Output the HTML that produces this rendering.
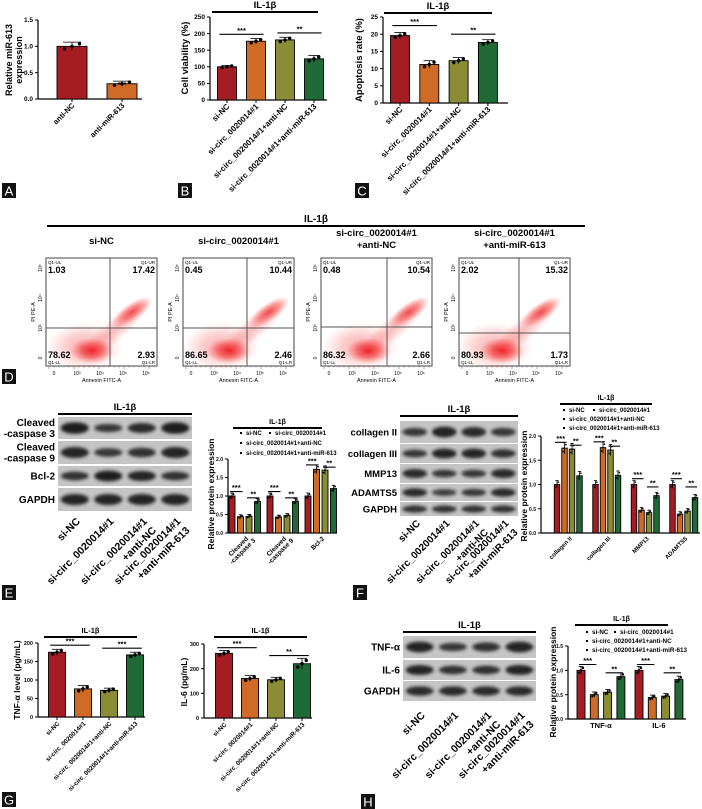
<!DOCTYPE html>
<html><head><meta charset="utf-8">
<style>
html,body{margin:0;padding:0;background:#fff;}
svg{display:block;font-family:"Liberation Sans",Arial,sans-serif;}
</style></head>
<body>
<svg id="fig" width="702" height="809" viewBox="0 0 702 809" xmlns="http://www.w3.org/2000/svg">
<defs>
<radialGradient id="cloud" cx="50%" cy="50%" r="50%">
<stop offset="0" stop-color="#e8000a" stop-opacity="0.95"/>
<stop offset="0.5" stop-color="#f01a1a" stop-opacity="0.6"/>
<stop offset="1" stop-color="#ff4040" stop-opacity="0"/>
</radialGradient>
<filter id="blur1" x="-20%" y="-50%" width="140%" height="200%"><feGaussianBlur stdDeviation="1.6"/></filter>
</defs>
</svg>
<script>
// ---------- data ----------
const colors4 = ['#a51d22', '#cf6b26', '#8b8c36', '#1f6a37'];
const aCats = ['anti-NC', 'anti-miR-613'];
const aVals = [1.0, 0.29];
const aErrs = [0.08, 0.05];
const aTicks = [0, 0.5, 1.0, 1.5];
const groupCats = ['si-NC', 'si-circ_0020014#1', 'si-circ_0020014#1+anti-NC', 'si-circ_0020014#1+anti-miR-613'];
const bVals = [100, 177, 181, 124];
const bErrs = [4, 8, 8, 10];
const bTicks = [0, 50, 100, 150, 200, 250];
const cVals = [19.6, 11.2, 12.3, 17.6];
const cErrs = [0.9, 1.1, 0.9, 0.8];
const cTicks = [0, 5, 10, 15, 20, 25];
const eCats = ['Cleaved|-caspase 3', 'Cleaved|-caspase 9', 'Bcl-2'];
const eNC = [1.0, 1.0, 1.0];
const eSi = [0.44, 0.43, 1.72];
const eANC = [0.45, 0.47, 1.70];
const eAmiR = [0.85, 0.85, 1.20];
const fCats = ['collagen II', 'collagen III', 'MMP13', 'ADAMTS5'];
const fNC = [1.0, 1.0, 1.0, 1.0];
const fSi = [1.75, 1.76, 0.47, 0.39];
const fANC = [1.73, 1.71, 0.42, 0.45];
const fAmiR = [1.18, 1.19, 0.77, 0.73];
const protTicks2 = [0, 0.5, 1.0, 1.5, 2.0];
const gTnf = [175, 76, 72, 168];
const gTnfErr = [8, 9, 6, 7];
const gTnfTicks = [0, 50, 100, 150, 200];
const gIl6 = [262, 160, 155, 220];
const gIl6Err = [12, 12, 10, 22];
const gIl6Ticks = [0, 100, 200, 300];
const hCats = ['TNF-α', 'IL-6'];
const hNC = [1.0, 1.0];
const hSi = [0.50, 0.44];
const hANC = [0.55, 0.47];
const hAmiR = [0.87, 0.81];
const hTicks = [0, 0.5, 1.0, 1.5];
const flowTitles = [['si-NC'], ['si-circ_0020014#1'], ['si-circ_0020014#1', '+anti-NC'], ['si-circ_0020014#1', '+anti-miR-613']];
const flowUL = ['1.03', '0.45', '0.48', '2.02'];
const flowUR = ['17.42', '10.44', '10.54', '15.32'];
const flowLL = ['78.62', '86.65', '86.32', '80.93'];
const flowLR = ['2.93', '2.46', '2.66', '1.73'];

// ---------- helpers ----------
const NS = 'http://www.w3.org/2000/svg';
const svg = document.getElementById('fig');
function mk(tag, attrs, parent, name, text) {
  const e = document.createElementNS(NS, tag);
  for (const k in attrs) e.setAttribute(k, attrs[k]);
  
  
  if (text !== undefined) e.textContent = text;
  (parent || svg).appendChild(e);
  return e;
}
function grp(name, parent) { return mk('g', {}, parent, name); }
function panelLetter(ch, x, y) {
  const g = grp('panel-label-' + ch.toLowerCase());
  mk('rect', {x: x, y: y, width: 14, height: 15, fill: '#111'}, g, 'panel-label-box');
  mk('text', {x: x + 7, y: y + 12.5, 'font-size': 13, fill: '#fff', 'text-anchor': 'middle'}, g, 'panel-label-text', ch);
}
function il1bHeader(g, x1, x2, y, fs) {
  mk('line', {x1: x1, x2: x2, y1: y, y2: y, stroke: '#000', 'stroke-width': 2}, g, 'il1b-bar');
  mk('text', {x: (x1 + x2) / 2, y: y - 4, 'font-size': fs || 9, 'font-weight': 'bold', 'text-anchor': 'middle'}, g, 'il1b-label', 'IL-1β');
}
function yAxis(g, cfg) {
  const sy = v => cfg.base - (v / cfg.ymax) * (cfg.base - cfg.top);
  mk('line', {x1: cfg.ax, x2: cfg.ax, y1: cfg.top, y2: cfg.base, stroke: '#000', 'stroke-width': 1.2}, g, 'y-axis');
  cfg.ticks.forEach(t => {
    mk('line', {x1: cfg.ax - 3, x2: cfg.ax, y1: sy(t), y2: sy(t), stroke: '#000', 'stroke-width': 1}, g, 'y-tick');
    const lbl = (cfg.dec ? t.toFixed(1) : String(t));
    mk('text', {x: cfg.ax - 5, y: sy(t) + 2.2, 'font-size': cfg.tfs || 6.5, 'font-weight': 'bold', 'text-anchor': 'end'}, g, 'y-tick-label', lbl);
  });
  mk('line', {x1: cfg.ax, x2: cfg.xEnd, y1: cfg.base, y2: cfg.base, stroke: '#000', 'stroke-width': 1.2}, g, 'x-axis');
  const lines = cfg.ylabel;
  lines.forEach((ln, i) => {
    const x = cfg.ylx + i * (cfg.ylfs + 1);
    mk('text', {x: x, y: cfg.yly, 'font-size': cfg.ylfs, 'font-weight': 'bold', 'text-anchor': 'middle', transform: 'rotate(-90 ' + x + ' ' + cfg.yly + ')'}, g, 'y-axis-title', ln);
  });
  return sy;
}
function bar(g, sy, cx, bw, v, err, color, base) {
  mk('rect', {x: cx - bw / 2, y: sy(v), width: bw, height: base - sy(v), fill: color, stroke: '#000', 'stroke-width': 0.9}, g, 'bar');
  const e1 = sy(v + err), e0 = sy(v - err);
  mk('line', {x1: cx, x2: cx, y1: e1, y2: e0, stroke: '#000', 'stroke-width': 0.8}, g, 'error-bar');
  mk('line', {x1: cx - bw * 0.3, x2: cx + bw * 0.3, y1: e1, y2: e1, stroke: '#000', 'stroke-width': 0.8}, g, 'error-cap');
  [-0.25, 0, 0.25].forEach((o, k) => {
    mk('circle', {cx: cx + o * bw, cy: sy(v + (k - 1) * err * 0.6), r: Math.min(1.7, bw * 0.15), fill: '#000'}, g, 'data-point');
  });
}
function sig(g, x1, x2, y, txt) {
  mk('line', {x1: x1, x2: x2, y1: y, y2: y, stroke: '#000', 'stroke-width': 1.1}, g, 'significance-line');
  mk('text', {x: (x1 + x2) / 2, y: y - 1.5, 'font-size': 7.5, 'font-weight': 'bold', 'text-anchor': 'middle'}, g, 'significance-stars', txt);
}
function rotLabel(g, x, y, txt, fs, name) {
  mk('text', {x: x, y: y, 'font-size': fs, 'font-weight': 'bold', 'text-anchor': 'end', transform: 'rotate(-45 ' + x + ' ' + y + ')'}, g, name || 'x-tick-label', txt);
}
function singleChart(name, cfg) {
  const g = grp(name);
  const sy = yAxis(g, cfg);
  cfg.vals.forEach((v, i) => {
    const cx = cfg.x0 + i * cfg.step;
    bar(g, sy, cx, cfg.bw, v, cfg.errs[i], cfg.colors[i], cfg.base);
    mk('line', {x1: cx, x2: cx, y1: cfg.base, y2: cfg.base + 3, stroke: '#000'}, g, 'x-tick');
    rotLabel(g, cx + 3, cfg.base + 7, cfg.cats[i], cfg.cfs || 7.5);
  });
  (cfg.sigs || []).forEach(s => {
    sig(g, cfg.x0 + s[0] * cfg.step - cfg.bw * 0.4, cfg.x0 + s[1] * cfg.step + cfg.bw * 0.4, sy(s[2]), s[3]);
  });
  if (cfg.header) il1bHeader(g, cfg.header[0], cfg.header[1], cfg.header[2], cfg.header[3]);
  return g;
}
function groupChart(name, cfg) {
  const g = grp(name);
  const sy = yAxis(g, cfg);
  const series = cfg.series;
  cfg.cats.forEach((c, gi) => {
    const gx = cfg.x0 + gi * cfg.gstep;
    series.forEach((s, si) => {
      bar(g, sy, gx + si * cfg.step, cfg.bw, s[gi], s[gi] * 0.05 + 0.03, colors4[si], cfg.base);
    });
    const mid = gx + 1.5 * cfg.step;
    if (cfg.rot) {
      const parts = c.split('|');
      parts.forEach((p, k) => rotLabel(g, mid + 4 + k * 7, cfg.base + 6 + k * 2, p, cfg.cfs, 'x-tick-label'));
    } else {
      mk('text', {x: mid, y: cfg.base + 9, 'font-size': cfg.cfs, 'font-weight': 'bold', 'text-anchor': 'middle'}, g, 'x-tick-label', c);
    }
    const top1 = Math.max(series[0][gi], series[1][gi]);
    const top2 = Math.max(series[2][gi], series[3][gi]);
    sig(g, gx - 2, gx + cfg.step + 2, sy(Math.max(top1 + 0.12, 1.12)), cfg.sig1[gi]);
    sig(g, gx + 2 * cfg.step - 2, gx + 3 * cfg.step + 2, sy(Math.max(top2 + 0.08, 0.95)), cfg.sig2[gi]);
  });
  const L = cfg.legend;
  const lg = grp('legend', g);
  const items = [['si-NC', L.x, L.y], ['si-circ_0020014#1', L.x2, L.y], ['si-circ_0020014#1+anti-NC', L.x, L.y + L.dy], ['si-circ_0020014#1+anti-miR-613', L.x, L.y + 2 * L.dy]];
  items.forEach((it, i) => {
    mk('rect', {x: it[1] - 6, y: it[2] - 3, width: 2, height: 2, fill: '#000'}, lg, 'legend-marker');
    mk('text', {x: it[1], y: it[2], 'font-size': cfg.lfs, 'font-weight': 'bold'}, lg, 'legend-entry', it[0]);
  });
  il1bHeader(g, cfg.header[0], cfg.header[1], cfg.header[2], 7);
  return g;
}
function blot(name, cfg) {
  const g = grp(name);
  cfg.rows.forEach((r, ri) => {
    const rg = grp('blot-row', g);
    mk('rect', {x: cfg.x, y: r.y, width: cfg.w, height: r.h, fill: '#c4c4c4'}, rg, 'blot-strip');
    const lw = cfg.w / 4;
    r.k.forEach((k, li) => {
      const cx = cfg.x + lw * (li + 0.5);
      mk('ellipse', {cx: cx, cy: r.y + r.h / 2, rx: lw * 0.42, ry: r.h * 0.18 * k + 1.8, fill: '#151515', opacity: 0.6 + 0.35 * k, filter: 'url(#blur1)'}, rg, 'blot-band');
    });
    r.label.forEach((ln, k) => {
      mk('text', {x: cfg.x - 3, y: r.y + r.h / 2 + 3.5 + (k - (r.label.length - 1) / 2) * 11, 'font-size': cfg.fs, 'font-weight': 'bold', 'text-anchor': 'end'}, rg, 'blot-row-label', ln);
    });
  });
  il1bHeader(g, cfg.x, cfg.x + cfg.w, cfg.hy, 9.5);
  const lw = cfg.w / 4;
  cfg.lanes.forEach((ln, li) => {
    const cx = cfg.x + lw * (li + 0.5);
    ln.forEach((p, k) => rotLabel(g, cx + 6 + k * 9, cfg.ly + k * 9, p, cfg.lfs, 'lane-label'));
  });
  return g;
}
function flowPlot(i, x, y, vx, hy) {
  const g = grp('flow-plot-' + (i + 1));
  const w = 111, h = 108;
  const t = flowTitles[i];
  t.forEach((ln, k) => mk('text', {x: x + w / 2, y: (t.length > 1 ? 236 : 244) + k * 12, 'font-size': 9.5, 'font-weight': 'bold', 'text-anchor': 'middle'}, g, 'flow-title', ln));
  mk('rect', {x: x, y: y, width: w, height: h, fill: '#fff', stroke: '#444', 'stroke-width': 1}, g, 'flow-frame');
  const qx = x + vx, qy = y + hy;
  mk('ellipse', {cx: x + vx * 0.6, cy: y + h * 0.82, rx: 38, ry: 24, fill: 'url(#cloud)', opacity: 0.35}, g, 'cluster-live-halo');
  mk('ellipse', {cx: x + vx * 0.72, cy: y + h * 0.86, rx: 22, ry: 13, fill: 'url(#cloud)', opacity: 0.85}, g, 'cluster-live');
  mk('ellipse', {cx: x + vx + 5, cy: y + h * 0.66, rx: 46, ry: 12, fill: 'url(#cloud)', opacity: 0.28, transform: 'rotate(-40 ' + (x + vx + 5) + ' ' + (y + h * 0.66) + ')'}, g, 'cluster-diagonal');
  mk('ellipse', {cx: x + vx + 22, cy: y + h * 0.5, rx: 24, ry: 9, fill: 'url(#cloud)', opacity: 0.7, transform: 'rotate(-35 ' + (x + vx + 22) + ' ' + (y + h * 0.5) + ')'}, g, 'cluster-late-apoptotic');
  mk('line', {x1: qx, x2: qx, y1: y, y2: y + h, stroke: '#555', 'stroke-width': 1}, g, 'quadrant-vline');
  mk('line', {x1: x, x2: x + w, y1: qy, y2: qy, stroke: '#555', 'stroke-width': 1}, g, 'quadrant-hline');
  mk('text', {x: x + 2, y: y + 6, 'font-size': 4.5}, g, 'quadrant-name', 'Q1-UL');
  mk('text', {x: x + w - 2, y: y + 6, 'font-size': 4.5, 'text-anchor': 'end'}, g, 'quadrant-name', 'Q1-UR');
  mk('text', {x: x + 2, y: y + h - 2, 'font-size': 4.5}, g, 'quadrant-name', 'Q1-LL');
  mk('text', {x: x + w - 2, y: y + h - 2, 'font-size': 4.5, 'text-anchor': 'end'}, g, 'quadrant-name', 'Q1-LR');
  mk('text', {x: x + 2, y: y + 15, 'font-size': 9, 'font-weight': 'bold'}, g, 'quadrant-ul-value', flowUL[i]);
  mk('text', {x: x + w - 2, y: y + 15, 'font-size': 9, 'font-weight': 'bold', 'text-anchor': 'end'}, g, 'quadrant-ur-value', flowUR[i]);
  mk('text', {x: x + 2, y: y + h - 8, 'font-size': 9, 'font-weight': 'bold'}, g, 'quadrant-ll-value', flowLL[i]);
  mk('text', {x: x + w - 2, y: y + h - 8, 'font-size': 9, 'font-weight': 'bold', 'text-anchor': 'end'}, g, 'quadrant-lr-value', flowLR[i]);
  for (let k = 0; k < 22; k++) {
    mk('line', {x1: x + 3 + k * 5, x2: x + 3 + k * 5, y1: y + h, y2: y + h + (k % 5 === 0 ? 3 : 1.5), stroke: '#555', 'stroke-width': 0.5}, g, 'x-minor-tick');
  }
  ['0', '10³', '10⁴', '10⁵', '10⁶'].forEach((tl, k) => {
    const tx = x + 8 + k * 23;
    mk('text', {x: tx, y: y + h + 9, 'font-size': 5, 'text-anchor': 'middle'}, g, 'x-tick-label', tl);
  });
  ['0', '10³', '10⁴', '10⁵'].forEach((tl, k) => {
    const ty = y + h - 8 - k * 30;
    mk('text', {x: x - 4, y: ty, 'font-size': 5, 'text-anchor': 'middle', transform: 'rotate(-90 ' + (x - 4) + ' ' + ty + ')'}, g, 'y-tick-label', tl);
  });
  mk('text', {x: x + w / 2, y: y + h + 16, 'font-size': 5.5, 'text-anchor': 'middle'}, g, 'x-axis-title', 'Annexin FITC-A');
  mk('text', {x: x - 11, y: y + h / 2, 'font-size': 5.5, 'text-anchor': 'middle', transform: 'rotate(-90 ' + (x - 11) + ' ' + (y + h / 2) + ')'}, g, 'y-axis-title', 'PI PE-A');
}

// ---------- Panel A ----------
singleChart('panel-a-chart', {ax: 38, base: 99, top: 20, ymax: 1.5, ticks: aTicks, dec: true, xEnd: 142,
  x0: 72, step: 50, bw: 30, vals: aVals, errs: aErrs, colors: [colors4[0], colors4[1]], cats: aCats, cfs: 7.5,
  ylabel: ['Relative miR-613', 'expression'], ylx: 12, yly: 60, ylfs: 9,
  sigs: []});
mk('text', {x: 122, y: 87, 'font-size': 7.5, 'font-weight': 'bold', 'text-anchor': 'middle'}, svg, 'significance-stars', '***');
panelLetter('A', 2, 183);

// ---------- Panel B ----------
singleChart('panel-b-chart', {ax: 210, base: 100, top: 17, ymax: 250, ticks: bTicks, xEnd: 327,
  x0: 227, step: 29, bw: 19, vals: bVals, errs: bErrs, colors: colors4, cats: groupCats, cfs: 8,
  ylabel: ['Cell viability (%)'], ylx: 188, yly: 58, ylfs: 9.5,
  sigs: [[0, 1, 198, '***'], [2, 3, 202, '**']], header: [212, 318, 12, 9.5]});
panelLetter('B', 178, 183);

// ---------- Panel C ----------
singleChart('panel-c-chart', {ax: 383, base: 103, top: 17, ymax: 25, ticks: cTicks, xEnd: 508,
  x0: 400, step: 29.3, bw: 19, vals: cVals, errs: cErrs, colors: colors4, cats: groupCats, cfs: 8,
  ylabel: ['Apoptosis rate (%)'], ylx: 362, yly: 60, ylfs: 9.5,
  sigs: [[0, 1, 22.5, '***'], [2, 3, 20, '**']], header: [384, 492, 13, 9.5]});
panelLetter('C', 355, 183);

// ---------- Panel D ----------
const dg = grp('panel-d-header');
il1bHeader(dg, 47, 585, 226, 10);
flowPlot(0, 46, 258, 64, 70);
flowPlot(1, 183, 258, 64, 70);
flowPlot(2, 321, 258, 66, 69);
flowPlot(3, 459, 258, 60, 75);
panelLetter('D', 2, 369);

// ---------- Panel E ----------
blot('panel-e-blot', {x: 58, w: 134, hy: 414, fs: 10, lfs: 10.5, ly: 522,
  rows: [
    {y: 417, h: 22, k: [1, 0.6, 0.8, 1], label: ['Cleaved', '-caspase 3']},
    {y: 441, h: 23, k: [0.9, 0.6, 0.7, 0.9], label: ['Cleaved', '-caspase 9']},
    {y: 466, h: 20, k: [0.7, 1, 0.9, 0.7], label: ['Bcl-2']},
    {y: 488, h: 23, k: [0.9, 0.9, 0.9, 0.9], label: ['GAPDH']}],
  lanes: [['si-NC'], ['si-circ_0020014#1'], ['si-circ_0020014#1', '+anti-NC'], ['si-circ_0020014#1', '+anti-miR-613']]});
groupChart('panel-e-chart', {ax: 228, base: 533, top: 459, ymax: 2.0, ticks: protTicks2, dec: true, tfs: 5, xEnd: 337,
  x0: 232, gstep: 38, step: 8.5, bw: 6, cats: eCats, series: [eNC, eSi, eANC, eAmiR], rot: true, cfs: 6.5,
  ylabel: ['Relative protein expression'], ylx: 214, yly: 494, ylfs: 8.5,
  sig1: ['***', '***', '***'], sig2: ['**', '**', '**'], lfs: 6,
  legend: {x: 246, x2: 275, y: 435, dy: 10}, header: [233, 322, 428]});
panelLetter('E', 2, 585);

// ---------- Panel F ----------
blot('panel-f-blot', {x: 400, w: 118, hy: 416, fs: 9.5, lfs: 10, ly: 524,
  rows: [
    {y: 421, h: 22, k: [0.6, 0.9, 0.8, 0.6], label: ['collagen II']},
    {y: 444, h: 19, k: [0.6, 0.9, 0.9, 0.7], label: ['collagen III']},
    {y: 464, h: 19, k: [0.8, 0.6, 0.6, 0.8], label: ['MMP13']},
    {y: 484, h: 17, k: [0.8, 0.5, 0.6, 0.8], label: ['ADAMTS5']},
    {y: 502, h: 14, k: [0.7, 0.7, 0.7, 0.7], label: ['GAPDH']}],
  lanes: [['si-NC'], ['si-circ_0020014#1'], ['si-circ_0020014#1', '+anti-NC'], ['si-circ_0020014#1', '+anti-miR-613']]});
groupChart('panel-f-chart', {ax: 541, base: 533, top: 436, ymax: 2.0, ticks: protTicks2, dec: true, tfs: 5, xEnd: 700,
  x0: 557, gstep: 38.5, step: 7.5, bw: 5.5, cats: fCats, series: [fNC, fSi, fANC, fAmiR], rot: true, cfs: 6,
  ylabel: ['Relative protein expression'], ylx: 527, yly: 486, ylfs: 8.5,
  sig1: ['***', '***', '***', '***'], sig2: ['**', '**', '**', '**'], lfs: 6,
  legend: {x: 569, x2: 599, y: 412, dy: 9}, header: [560, 652, 404]});
panelLetter('F', 353, 585);

// ---------- Panel G ----------
singleChart('panel-g-tnf-chart', {ax: 38, base: 717, top: 643, ymax: 200, ticks: gTnfTicks, xEnd: 145, tfs: 5.5,
  x0: 57, step: 26, bw: 17, vals: gTnf, errs: gTnfErr, colors: colors4, cats: groupCats, cfs: 6.3,
  ylabel: ['TNF-α level (pg/mL)'], ylx: 20, yly: 680, ylfs: 8.5,
  sigs: [[0, 1, 194, '***'], [2, 3, 186, '***']], header: [44, 137, 637, 7.5]});
singleChart('panel-g-il6-chart', {ax: 204, base: 718, top: 644, ymax: 300, ticks: gIl6Ticks, xEnd: 312, tfs: 5.5,
  x0: 224, step: 26, bw: 17, vals: gIl6, errs: gIl6Err, colors: colors4, cats: groupCats, cfs: 6.3,
  ylabel: ['IL-6 (pg/mL)'], ylx: 187, yly: 682, ylfs: 8.5,
  sigs: [[0, 1, 285, '***'], [2, 3, 253, '**']], header: [214, 307, 637, 7.5]});
panelLetter('G', 2, 792);

// ---------- Panel H ----------
blot('panel-h-blot', {x: 403, w: 133, hy: 632, fs: 10, lfs: 10.5, ly: 716,
  rows: [
    {y: 636, h: 22, k: [0.9, 0.6, 0.7, 0.9], label: ['TNF-α']},
    {y: 660, h: 20, k: [0.9, 0.7, 0.7, 0.9], label: ['IL-6']},
    {y: 681, h: 20, k: [0.8, 0.8, 0.8, 0.8], label: ['GAPDH']}],
  lanes: [['si-NC'], ['si-circ_0020014#1'], ['si-circ_0020014#1', '+anti-NC'], ['si-circ_0020014#1', '+anti-miR-613']]});
groupChart('panel-h-chart', {ax: 568, base: 719, top: 646, ymax: 1.5, ticks: hTicks, dec: true, tfs: 5, xEnd: 686,
  x0: 581, gstep: 58, step: 13.3, bw: 8, cats: hCats, series: [hNC, hSi, hANC, hAmiR], rot: false, cfs: 7.5,
  ylabel: ['Relative protein expression'], ylx: 556, yly: 682, ylfs: 8.5,
  sig1: ['***', '***'], sig2: ['**', '**'], lfs: 6.3,
  legend: {x: 592, x2: 620, y: 634, dy: 9}, header: [575, 668, 625]});
panelLetter('H', 361, 794);
</script>
</body></html>
